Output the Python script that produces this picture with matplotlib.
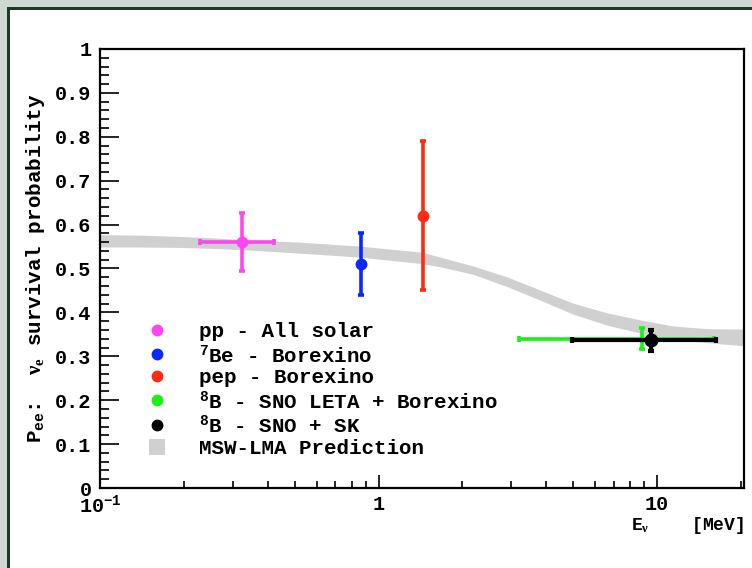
import matplotlib
matplotlib.use("Agg")
import matplotlib.pyplot as plt
from matplotlib.patches import Rectangle, Patch
from matplotlib.lines import Line2D
from matplotlib.ticker import MultipleLocator, LogLocator, FuncFormatter, NullFormatter
import numpy as np

plt.rcParams['font.family'] = 'Liberation Mono'
plt.rcParams['font.weight'] = 'bold'
plt.rcParams['axes.labelweight'] = 'bold'
plt.rcParams['mathtext.fontset'] = 'custom'
plt.rcParams['mathtext.rm'] = 'Liberation Mono:bold'
plt.rcParams['mathtext.bf'] = 'Liberation Mono:bold'
plt.rcParams['mathtext.it'] = 'Liberation Serif'

# measurements: energy [MeV] and survival probability
labels = ["pp - All solar", r"$^{\mathrm{7}}$Be - Borexino", "pep - Borexino",
          r"$^{\mathrm{8}}$B - SNO LETA + Borexino", r"$^{\mathrm{8}}$B - SNO + SK"]
colors = ["#ff46ee", "#0a28ff", "#ff2a14", "#18f018", "#000000"]
e_center = [0.323, 0.862, 1.44, 8.8, 9.5]
e_low = [0.228, 0.862, 1.44, 3.2, 4.95]
e_high = [0.42, 0.862, 1.44, 16.0, 16.3]
p_center = [0.56, 0.51, 0.62, 0.34, 0.337]
p_err = [0.066, 0.07, 0.17, 0.024, 0.024]

# MSW-LMA prediction band
band_e = [0.1, 0.14, 0.193, 0.25, 0.323, 0.52, 0.855, 1.44, 1.66, 2.18, 2.89,
          3.8, 4.99, 6.61, 8.69, 11.4, 15.1, 20.5]
band_lo = [0.549, 0.549, 0.548, 0.546, 0.543, 0.535, 0.526, 0.511, 0.504, 0.487, 0.459,
           0.428, 0.396, 0.371, 0.353, 0.339, 0.331, 0.324]
band_hi = [0.577, 0.576, 0.573, 0.570, 0.566, 0.560, 0.551, 0.537, 0.526, 0.506, 0.481,
           0.451, 0.421, 0.399, 0.383, 0.369, 0.363, 0.362]

W, H = 752, 568
fig = plt.figure(figsize=(W / 100, H / 100), dpi=100)
fig.patch.set_facecolor('#cdd9d3')
fig.add_artist(Rectangle((7 / W, 0), 1, 1 - 7 / H, transform=fig.transFigure,
                         facecolor='#1c3a24', edgecolor='none', zorder=0))
fig.add_artist(Rectangle((10 / W, 0), 1, 1 - 10 / H, transform=fig.transFigure,
                         facecolor='white', edgecolor='none', zorder=0))

ax = fig.add_axes([100 / W, 80 / H, 644 / W, 439 / H])
ax.set_facecolor('white')

ax.fill_between(band_e, band_lo, band_hi, color='#d0d0d0', linewidth=0, zorder=1)

for i in range(len(labels)):
    xerr = [[e_center[i] - e_low[i]], [e_high[i] - e_center[i]]]
    big = colors[i] == "#000000"
    ax.errorbar([e_center[i]], [p_center[i]], yerr=[p_err[i]],
                xerr=xerr if e_high[i] > e_low[i] else None,
                fmt='o', color=colors[i], ms=9 if big else (4 if i == 3 else 7.5),
                elinewidth=3 if big else 2.6, capsize=2.5, capthick=3 if big else 2.6,
                zorder=3 + i)

ax.set_xscale('log')
ax.set_xlim(0.1, 20.5)
ax.set_ylim(0, 1)

ax.set_xticks([0.1, 1, 10])
ax.set_xticklabels([r"$\mathrm{10^{-1}}$", "1", "10"])
ax.xaxis.set_minor_locator(LogLocator(base=10, subs=np.arange(2, 10)))
ax.xaxis.set_minor_formatter(NullFormatter())
ax.yaxis.set_major_locator(MultipleLocator(0.1))
ax.yaxis.set_minor_locator(MultipleLocator(0.02))
ax.yaxis.set_major_formatter(FuncFormatter(lambda v, p: f"{v:g}"))

ax.tick_params(axis='both', which='both', direction='in', top=False, right=False,
               labelsize=14.5, width=1.2)
ax.tick_params(axis='x', which='major', length=9.4, pad=5)
ax.tick_params(axis='x', which='minor', length=4.8)
ax.tick_params(axis='y', which='major', length=13.7, pad=6)
ax.tick_params(axis='y', which='minor', length=6.8)
for s in ax.spines.values():
    s.set_linewidth(1.6)

ax.set_xlabel(r"E$_{\nu}$    [MeV]", fontsize=13, loc='right', labelpad=-2)
ax.set_ylabel(r"$\mathrm{P_{ee}}$:  $\nu_{e}$ survival probability", fontsize=15, labelpad=6)

handles = [Line2D([], [], marker='o', color=c, linestyle='none', markersize=7.5) for c in colors]
handles.append(Patch(facecolor='#d0d0d0', edgecolor='none'))
ax.legend(handles, labels + ["MSW-LMA Prediction"], loc='upper left',
          bbox_to_anchor=((148.7 - 100) / 644, (488 - 322) / 439), frameon=False,
          fontsize=15, handlelength=0.8, handleheight=0.8, handletextpad=1.62,
          labelspacing=0.12, borderpad=0, borderaxespad=0)

fig.savefig('out.png', dpi=100, facecolor=fig.get_facecolor())
